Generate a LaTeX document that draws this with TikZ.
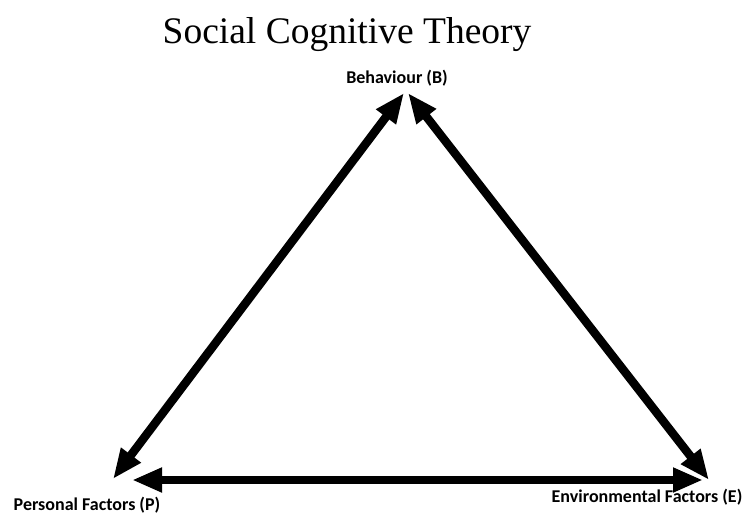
\documentclass[tikz,border=0pt]{standalone}
\usepackage{fontspec}
\setmainfont{Liberation Serif}
\newfontfamily\labfont{Carlito}
\usetikzlibrary{arrows.meta}
\begin{document}
\begin{tikzpicture}[x=1pt,y=-1pt,
  lab/.style={font=\labfont\bfseries\fontsize{18}{21}\selectfont, inner sep=0pt, anchor=base},
  ttl/.style={font=\fontsize{37.5}{42}\selectfont, inner sep=0pt, anchor=base},
  conn/.style={line width=8.5pt, {Triangle[length=30pt,width=23pt]}-{Triangle[length=30pt,width=23pt]}}]
\useasboundingbox (0,0) rectangle (747,514);
\node[ttl] (title) at (347,43) {Social Cognitive Theory};
\node[lab] (B) at (397,83) {Behaviour (B)};
\node[lab] (P) at (87,510) {Personal Factors (P)};
\node[lab] (E) at (647,502) {Environmental Factors (E)};
\coordinate (bl) at (404,93);
\coordinate (br) at (408,93);
\coordinate (pd) at (113,479);
\coordinate (ph) at (132,480);
\coordinate (ed) at (709,480);
\coordinate (eh) at (703,480);
\draw[conn] (pd) -- (bl);
\draw[conn] (ed) -- (br);
\draw[conn] (ph) -- (eh);
\end{tikzpicture}
\end{document}
